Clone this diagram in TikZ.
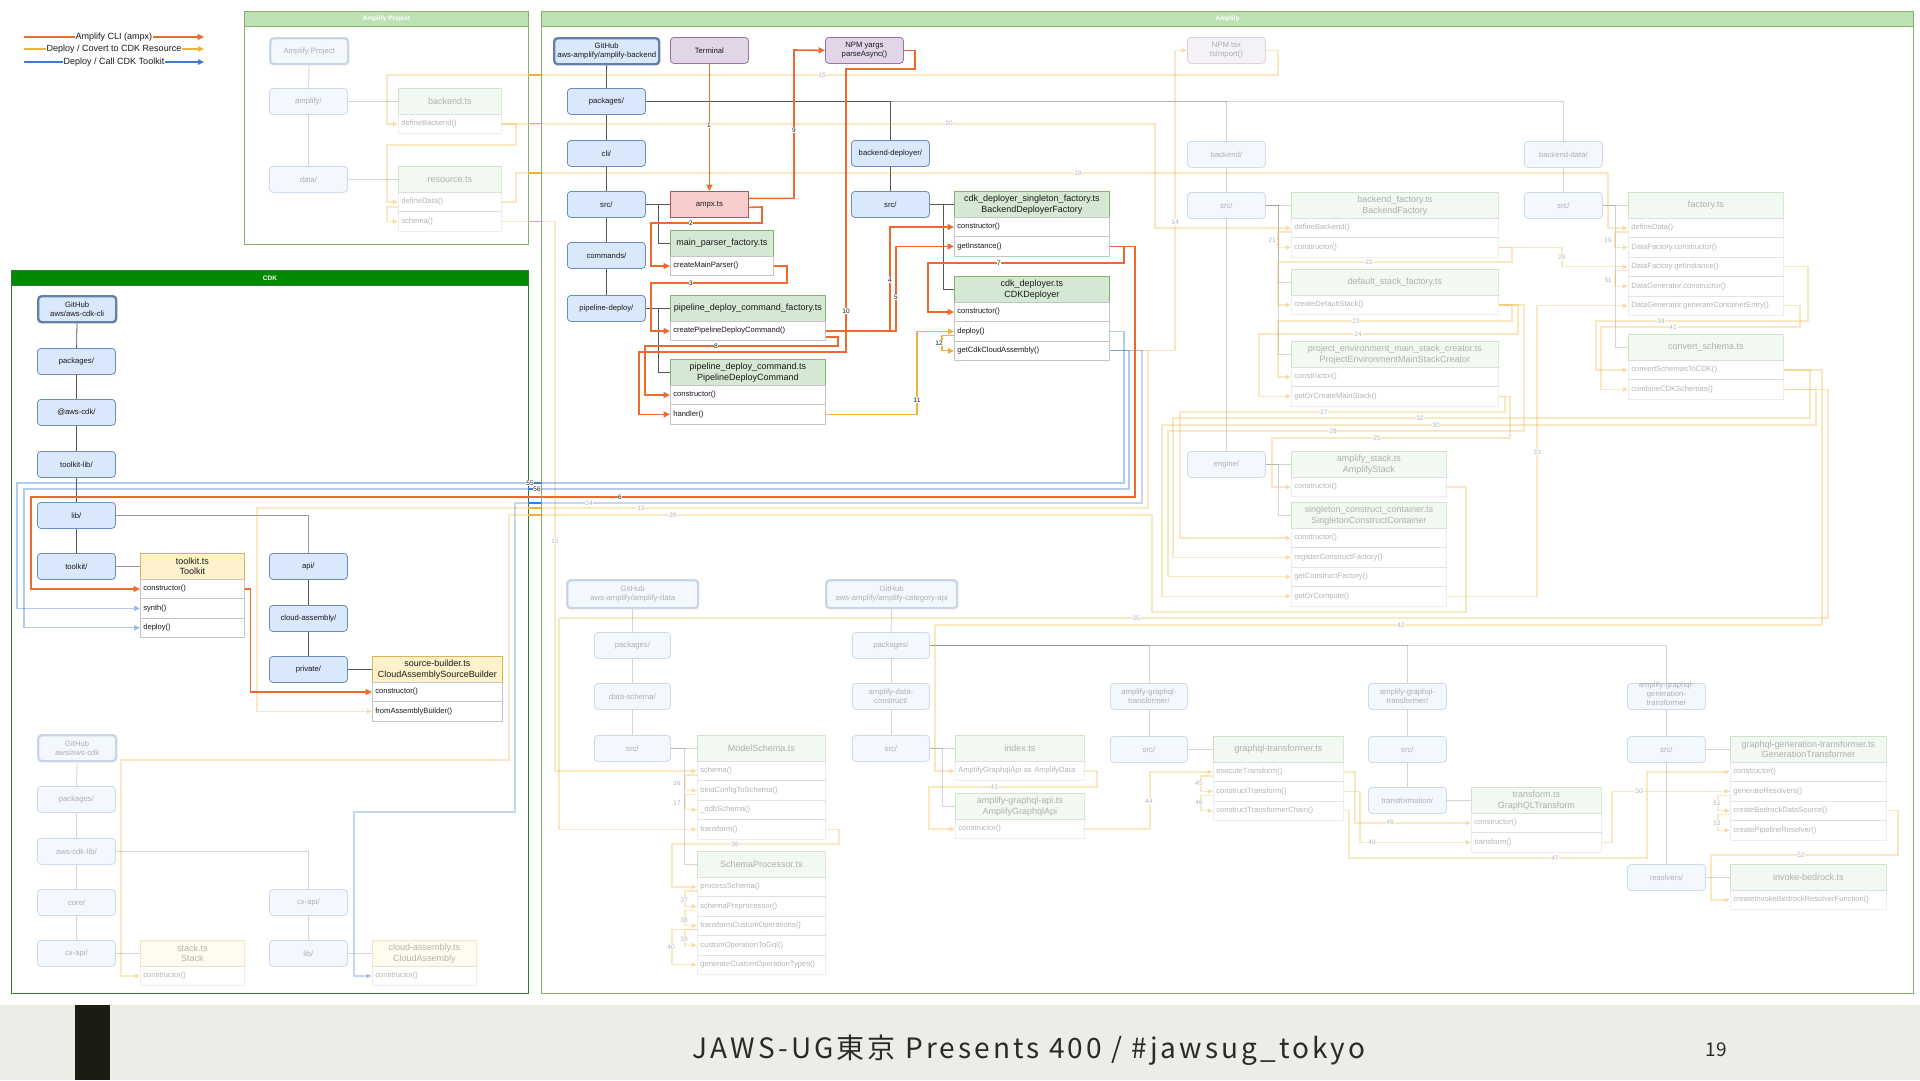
\documentclass[tikz,border=0pt]{standalone}
\usepackage{fontspec}
\setmainfont{Liberation Sans}
\newfontfamily\cjkfont{Noto Sans CJK JP}
\newfontfamily\cjkwide[LetterSpace=11]{Noto Sans CJK JP}
\usetikzlibrary{arrows.meta}
\definecolor{corng}{HTML}{EA6B2D}
\definecolor{cylw}{HTML}{F0B33A}
\definecolor{cblu}{HTML}{3B7DDD}
\definecolor{ctree}{HTML}{555555}
\definecolor{fbord}{HTML}{6C8EBF}
\definecolor{ffill}{HTML}{DAE8FC}
\definecolor{gbd}{HTML}{82B366}
\definecolor{gfill}{HTML}{D5E8D4}
\definecolor{ybd}{HTML}{D6B656}
\definecolor{yfill}{HTML}{FFF2CC}
\definecolor{pbd}{HTML}{9673A6}
\definecolor{pfill}{HTML}{E1D5E7}
\definecolor{rbd}{HTML}{B85450}
\definecolor{rfill}{HTML}{F8CECC}
\definecolor{rowbd}{HTML}{C4C4C4}
\definecolor{cdkg}{HTML}{008A00}
\definecolor{cdkb}{HTML}{2E7D32}
\definecolor{ampb}{HTML}{82B366}
\definecolor{amph}{HTML}{BDE1B5}
\definecolor{footbg}{HTML}{EEECE6}
\definecolor{footbar}{HTML}{1C1C14}
\definecolor{foottxt}{HTML}{2A2A2A}
\newcommand{\hdrfont}{\fontsize{9}{10.6}\selectfont}
\newcommand{\rowfont}{\fontsize{7.6}{9}\selectfont}
\newcommand{\fldfont}{\fontsize{7.7}{9}\selectfont}
\newcommand{\lblfont}{\fontsize{6.5}{7}\selectfont}
\tikzset{
  every node/.style={inner sep=1pt, text=black!90},
  cont/.style={anchor=north west, inner sep=0pt, line width=1pt},
  conthdr/.style={anchor=north west, inner sep=0pt, minimum height=15pt, text=white, font=\bfseries\fontsize{6.5}{7}\selectfont, line width=1pt},
  folder/.style={draw=fbord, fill=ffill, rounded corners=3.5pt, minimum width=78pt, minimum height=26pt, anchor=north west, align=center, font=\fldfont, line width=0.8pt},
  ghnode/.style={folder, line width=2.4pt, draw=fbord!90!black},
  purp/.style={folder, draw=pbd, fill=pfill},
  redbox/.style={folder, rounded corners=0pt, draw=rbd, fill=rfill},
  hdrG/.style={draw=gbd, fill=gfill, anchor=north west, minimum height=26pt, align=center, font=\hdrfont, inner sep=1pt, line width=0.8pt},
  hdrY/.style={draw=ybd, fill=yfill, anchor=north west, minimum height=26pt, align=center, font=\hdrfont, inner sep=1pt, line width=0.8pt},
  rowbox/.style={draw=rowbd, fill=white, anchor=north west, minimum height=19.4pt, inner xsep=3pt, inner ysep=0pt, align=left, font=\rowfont, line width=0.6pt},
  fade/.style={draw opacity=0.3, fill opacity=0.3, text opacity=0.32},
  nofade/.style={},
  tree/.style={draw=ctree, line width=0.8pt},
  ftree/.style={draw=ctree, line width=0.8pt, opacity=0.25},
  orngL/.style={draw=corng, line width=1.6pt, -{Triangle[length=6.5pt,width=6pt]}},
  ylwL/.style={draw=cylw, line width=1.3pt, -{Triangle[length=6pt,width=5.5pt]}},
  bluL/.style={draw=cblu, line width=1.2pt, opacity=0.4, -{Triangle[length=6pt,width=5.5pt]}},
  fylw/.style={draw=cylw, line width=1.1pt, opacity=0.3, -{Triangle[length=5.5pt,width=5pt]}},
  fblu/.style={draw=cblu, line width=1.1pt, opacity=0.3, -{Triangle[length=5.5pt,width=5pt]}},
  gapB/.style={draw=cblu, line width=1.2pt},
  gapY/.style={draw=cylw, line width=1.1pt},
  lbl/.style={font=\lblfont, fill=white, inner sep=0.6pt},
  flbl/.style={lbl, text opacity=0.33},
  legtxt/.style={fill=white, inner sep=0.6pt, font=\fontsize{9}{10}\selectfont}
}
\newcommand{\mkfile}[8]{%
  \node[#1,#2,minimum width=#6pt] (#3) at (#4,#5) {#7};
  \pgfmathsetmacro{\mytw}{#6-6}%
  \foreach \rk/\rt [count=\ri from 0] in {#8}{%
    \node[rowbox,#2,text width=\mytw pt] (#3-\rk) at (#4,{#5+26+\ri*19.4}) {\rt};
  }%
}
\begin{document}
\begin{tikzpicture}[x=1pt,y=-1pt]
\fill[white] (0,0) rectangle (1920,1080);
\useasboundingbox (0,0) rectangle (1920,1080);

% ---------------- containers
\node[cont, draw=ampb, minimum width=284pt, minimum height=233pt] (apbox) at (244,11) {};
\node[conthdr, fill=amph, draw=ampb, minimum width=284pt] (aphdr) at (244,11) {Amplify Project};
\node[cont, draw=cdkb, minimum width=517pt, minimum height=723pt] (cdkbox) at (11,270) {};
\node[conthdr, fill=cdkg, draw=cdkb, minimum width=517pt] (cdkhdr) at (11,270) {CDK};
\node[cont, draw=ampb, minimum width=1372pt, minimum height=982pt] (ampbox) at (541,11) {};
\node[conthdr, fill=amph, draw=ampb, minimum width=1372pt] (amphdr) at (541,11) {Amplify};

% ---------------- legend
\coordinate (lg1a) at (24,37); \coordinate (lg1b) at (204,37);
\coordinate (lg2a) at (24,49); \coordinate (lg2b) at (204,49);
\coordinate (lg3a) at (24,62); \coordinate (lg3b) at (204,62);
\draw[orngL, line width=1.3pt] (lg1a) -- node[legtxt] (lgt1) {Amplify CLI (ampx)} (lg1b);
\draw[ylwL] (lg2a) -- node[legtxt] (lgt2) {Deploy / Covert to CDK Resource} (lg2b);
\draw[draw=cblu, line width=1.2pt, -{Triangle[length=6pt,width=5.5pt]}] (lg3a) -- node[legtxt] (lgt3) {Deploy / Call CDK Toolkit} (lg3b);

% ---------------- Amplify Project (faded)
\node[ghnode,fade] (ap-root) at (269,37) {Amplify Project};
\node[folder,fade] (ap-amp) at (269,88) {amplify/};
\node[folder,fade] (ap-data) at (269,166) {data/};
\mkfile{hdrG}{fade}{backend}{398}{88}{103}{backend.ts}{db/defineBackend()}
\mkfile{hdrG}{fade}{resource}{398}{166}{103}{resource.ts}{dd/defineData(),sch/schema()}

% ---------------- CDK
\node[ghnode] (c-gh) at (37,295) {GitHub\\aws/aws-cdk-cli};
\node[folder] (c-pkg) at (37,348) {packages/};
\node[folder] (c-awscdk) at (37,399) {@aws-cdk/};
\node[folder] (c-tlib) at (37,451) {toolkit-lib/};
\node[folder] (c-lib) at (37,502) {lib/};
\node[folder] (c-toolkit) at (37,553) {toolkit/};
\mkfile{hdrY}{nofade}{tk}{140}{553}{104}{toolkit.ts\\Toolkit}{ctor/constructor(),synth/synth(),deploy/deploy()}
\node[folder] (c-api) at (269,553) {api/};
\node[folder] (c-ca) at (269,605) {cloud-assembly/};
\node[folder] (c-priv) at (269,656) {private/};
\mkfile{hdrY}{nofade}{sb}{372}{656}{130}{source-builder.ts\\CloudAssemblySourceBuilder}{ctor/constructor(),fab/fromAssemblyBuilder()}
\node[ghnode,fade] (c-gh2) at (37,734) {GitHub\\aws/aws-cdk};
\node[folder,fade] (c-pkg2) at (37,786) {packages/};
\node[folder,fade] (c-lib2) at (37,838) {aws-cdk-lib/};
\node[folder,fade] (c-core) at (37,889) {core/};
\node[folder,fade] (c-cx) at (37,940) {cx-api/};
\mkfile{hdrY}{fade}{st}{140}{940}{104}{stack.ts\\Stack}{ctor/constructor()}
\node[folder,fade] (c-cx2) at (269,889) {cx-api/};
\node[folder,fade] (c-lib3) at (269,940) {lib/};
\mkfile{hdrY}{fade}{cas}{372}{940}{104}{cloud-assembly.ts\\CloudAssembly}{ctor/constructor()}

% ---------------- Amplify (bright)
\node[ghnode, minimum width=105pt] (a-gh) at (553,37) {GitHub\\aws-amplify/amplify-backend};
\node[purp] (term) at (670,37) {Terminal};
\node[purp] (yargs) at (825,37) {NPM yargs\\parseAsync()};
\node[purp,fade] (tsx) at (1187,37) {NPM tsx\\tsImport()};
\node[folder] (a-pkg) at (567,88) {packages/};
\node[folder] (a-cli) at (567,140) {cli/};
\node[folder] (a-src) at (567,191) {src/};
\node[folder] (a-cmd) at (567,242) {commands/};
\node[folder] (a-pd) at (567,295) {pipeline-deploy/};
\node[redbox] (ampx) at (670,191) {ampx.ts};
\mkfile{hdrG}{nofade}{mp}{670}{230}{103}{main\_parser\_factory.ts}{cmp/createMainParser()}
\mkfile{hdrG}{nofade}{pdf}{670}{295}{155}{pipeline\_deploy\_command\_factory.ts}{cpdc/createPipelineDeployCommand()}
\mkfile{hdrG}{nofade}{pdc}{670}{359}{155}{pipeline\_deploy\_command.ts\\PipelineDeployCommand}{ctor/constructor(),handler/handler()}
\node[folder] (bd) at (851,140) {backend-deployer/};
\node[folder] (bd-src) at (851,191) {src/};
\mkfile{hdrG}{nofade}{sf}{954}{191}{155}{cdk\_deployer\_singleton\_factory.ts\\BackendDeployerFactory}{ctor/constructor(),gi/getInstance()}
\mkfile{hdrG}{nofade}{cd}{954}{276}{155}{cdk\_deployer.ts\\CDKDeployer}{ctor/constructor(),deploy/deploy(),gca/getCdkCloudAssembly()}

% ---------------- Amplify right (faded)
\node[folder,fade] (a-be) at (1187,141) {backend/};
\node[folder,fade] (a-bsrc) at (1187,192) {src/};
\mkfile{hdrG}{fade}{bf}{1291}{192}{207}{backend\_factory.ts\\BackendFactory}{db/defineBackend(),ctor/constructor()}
\mkfile{hdrG}{fade}{dsf}{1291}{269}{207}{default\_stack\_factory.ts}{cds/createDefaultStack()}
\mkfile{hdrG}{fade}{pem}{1291}{341}{207}{project\_environment\_main\_stack\_creator.ts\\ProjectEnvironmentMainStackCreator}{ctor/constructor(),gocms/getOrCreateMainStack()}
\node[folder,fade] (a-eng) at (1187,451) {engine/};
\mkfile{hdrG}{fade}{as}{1291}{451}{155}{amplify\_stack.ts\\AmplifyStack}{ctor/constructor()}
\mkfile{hdrG}{fade}{scc}{1291}{502}{155}{singleton\_construct\_container.ts\\SingletonConstructContainer}{ctor/constructor(),rcf/registerConstructFactory(),gcf/getConstructFactory(),goc/getOrCompute()}
\node[folder,fade] (a-bd2) at (1524,141) {backend-data/};
\node[folder,fade] (a-bdsrc) at (1524,192) {src/};
\mkfile{hdrG}{fade}{fac}{1628}{192}{155}{factory.ts}{dd/defineData(),dfc/DataFactory.constructor(),dfg/DataFactory.getInstance(),dgc/DataGenerator.constructor(),dgg/DataGenerator.generateContainerEntry()}
\mkfile{hdrG}{fade}{cs}{1628}{334}{155}{convert\_schema.ts}{cstc/convertSchemasToCDK(),ccs/combineCDKSchemas()}

% ---------------- Amplify bottom (faded)
\node[ghnode,fade,minimum width=131pt, minimum height=28pt] (d-gh) at (566,579) {GitHub\\aws-amplify/amplify-data};
\node[folder,fade,minimum width=76pt] (d-pkg) at (594,632) {packages/};
\node[folder,fade,minimum width=76pt] (d-ds) at (594,683) {data-schema/};
\node[folder,fade,minimum width=76pt] (d-src) at (594,735) {src/};
\mkfile{hdrG}{fade}{ms}{697}{735}{128}{ModelSchema.ts}{sch/schema(),bcs/bindConfigToSchema(),ddb/\_ddbSchema(),tr/transform()}
\mkfile{hdrG}{fade}{sp}{697}{851}{128}{SchemaProcessor.ts}{ps/processSchema(),spp/schemaPreprocessor(),tco/transformCustomOperations(),cotg/customOperationToGql(),gcot/generateCustomOperationTypes()}
\node[ghnode,fade,minimum width=131pt, minimum height=28pt] (g-gh) at (825,579) {GitHub\\aws-amplify/amplify-category-api};
\node[folder,fade,minimum width=77pt] (g-pkg) at (852,632) {packages/};
\node[folder,fade,minimum width=77pt] (g-adc) at (852,683) {amplify-data-\\construct/};
\node[folder,fade,minimum width=77pt] (g-src) at (852,735) {src/};
\mkfile{hdrG}{fade}{idx}{955}{735}{129}{index.ts}{agad/AmplifyGraphqlApi as AmplifyData}
\mkfile{hdrG}{fade}{aga}{955}{793}{129}{amplify-graphql-api.ts\\AmplifyGraphqlApi}{ctor/constructor()}
\node[folder,fade,minimum width=77pt] (t1) at (1110,683) {amplify-graphql-\\transformer/};
\node[folder,fade,minimum width=77pt] (t1src) at (1110,736) {src/};
\mkfile{hdrG}{fade}{gt}{1213}{736}{130}{graphql-transformer.ts}{et/executeTransform(),ct/constructTransform(),ctc/constructTransformerChain()}
\node[folder,fade] (t2) at (1368,683) {amplify-graphql-\\transformer/};
\node[folder,fade] (t2src) at (1368,736) {src/};
\node[folder,fade] (t2tr) at (1368,787) {transformation/};
\mkfile{hdrG}{fade}{tt}{1471}{787}{130}{transform.ts\\GraphQLTransform}{ctor/constructor(),tf/transform()}
\node[folder,fade] (t3) at (1627,683) {\smash{\begin{tabular}{@{}c@{}}amplify-graphql-\\generation-\\transformer\end{tabular}}};
\node[folder,fade] (t3src) at (1627,736) {src/};
\node[folder,fade] (t3res) at (1627,864) {resolvers/};
\mkfile{hdrG}{fade}{gg}{1730}{736}{156}{graphql-generation-transformer.ts\\GenerationTransformer}{ctor/constructor(),gr/generateResolvers(),cbds/createBedrockDataSource(),cpr/createPipelineResolver()}
\mkfile{hdrG}{fade}{ib}{1730}{864}{156}{invoke-bedrock.ts}{cibrf/createInvokeBedrockResolverFunction()}

% ---------------- tree lines
\draw[ftree] (ap-root) -- (ap-amp);
\draw[ftree] (ap-amp) -- (ap-data);
\draw[ftree] (ap-amp.east) -- (backend.west);
\draw[ftree] (ap-data.east) -- (resource.west);

\draw[tree] (c-gh) -- (c-pkg);
\draw[tree] (c-pkg) -- (c-awscdk);
\draw[tree] (c-awscdk) -- (c-tlib);
\draw[tree] (c-tlib) -- (c-lib);
\draw[tree] (c-lib) -- (c-toolkit);
\draw[tree, draw=ctree!60] (c-lib.east) -| (c-api.north);
\draw[tree] (c-api) -- (c-ca);
\draw[tree] (c-ca) -- (c-priv);
\draw[tree, draw=ctree!60] (c-toolkit.east) -- (tk.west);
\draw[tree] (c-priv.east) -- (sb.west);
\draw[ftree] (c-gh2) -- (c-pkg2);
\draw[ftree] (c-pkg2) -- (c-lib2);
\draw[ftree] (c-lib2) -- (c-core);
\draw[ftree] (c-core) -- (c-cx);
\draw[ftree] (c-lib2.east) -| (c-cx2.north);
\draw[ftree] (c-cx2) -- (c-lib3);
\draw[ftree] (c-cx.east) -- (st.west);
\draw[ftree] (c-lib3.east) -- (cas.west);

\draw[tree] (a-gh) -- (a-pkg);
\draw[tree] (a-pkg) -- (a-cli);
\draw[tree] (a-cli) -- (a-src);
\draw[tree] (a-src) -- (a-cmd);
\draw[tree] (a-cmd) -- (a-pd);
\draw[ftree] (a-pkg.east) -| (a-be.north);
\draw[ftree] (a-pkg.east) -| (a-bd2.north);
\draw[tree] (a-pkg.east) -| (bd.north);
\draw[tree] (bd) -- (bd-src);
\draw[tree] (a-src.east) -- (ampx.west);
\draw[tree] (a-src.east) -- ++(13,0) |- (mp.west);
\draw[tree] (a-pd.east) -- ++(13,0) |- (pdf.west);
\draw[tree] (a-pd.east) -- ++(13,0) |- (pdc.west);
\draw[tree] (bd-src.east) -- (sf.west);
\draw[tree] (bd-src.east) -- ++(14,0) |- (cd.west);

\draw[ftree] (a-be) -- (a-bsrc);
\draw[ftree] (a-bsrc) -- (a-eng);
\draw[ftree] (a-bsrc.east) -- ++(13,0) |- (bf.west);
\draw[ftree] (a-bsrc.east) -- ++(13,0) |- (dsf.west);
\draw[ftree] (a-bsrc.east) -- ++(13,0) |- (pem.west);
\draw[ftree] (a-eng.east) -- ++(13,0) |- (as.west);
\draw[ftree] (a-eng.east) -- ++(13,0) |- (scc.west);
\draw[ftree] (a-bd2) -- (a-bdsrc);
\draw[ftree] (a-bdsrc.east) -- ++(13,0) |- (fac.west);
\draw[ftree] (a-bdsrc.east) -- ++(13,0) |- (cs.west);

\draw[ftree] (d-gh) -- (d-pkg);
\draw[ftree] (d-pkg) -- (d-ds);
\draw[ftree] (d-ds) -- (d-src);
\draw[ftree] (d-src.east) -- ++(14,0) |- (ms.west);
\draw[ftree] (d-src.east) -- ++(14,0) |- (sp.west);
\draw[ftree] (g-gh) -- (g-pkg);
\draw[ftree] (g-pkg) -- (g-adc);
\draw[ftree] (g-adc) -- (g-src);
\draw[ftree] (g-src.east) -- ++(13,0) |- (idx.west);
\draw[ftree] (g-src.east) -- ++(13,0) |- (aga.west);
\draw[ftree] (g-pkg.east) -| (t1.north);
\draw[ftree] (g-pkg.east) -| (t2.north);
\draw[ftree] (g-pkg.east) -| (t3.north);
\draw[ftree] (t1) -- (t1src);
\draw[ftree] (t1src.east) -- (gt.west);
\draw[ftree] (t2) -- (t2src);
\draw[ftree] (t2src) -- (t2tr);
\draw[ftree] (t2tr.east) -- (tt.west);
\draw[ftree] (t3) -- (t3src);
\draw[ftree] (t3src) -- (t3res);
\draw[ftree] (t3src.east) -- (gg.west);
\draw[ftree] (t3res.east) -- (ib.west);

% ---------------- faded yellow / blue connectors
\draw[fylw] (tsx.east) -| (1278,75) -- (387,75) |- (backend-db.west);
\draw[fylw] (backend-db.east) -| (516,145) -- (387,145) |- (resource-dd.west);
\draw[fylw] (resource-dd.east) -| (516,173) -- (1608,173) |- (fac-dd.west);
\draw[fylw] (backend-db.east) -| ([xshift=-136pt]bf-db.west) -- (bf-db.west);
\draw[fylw] (resource-sch.east) -| ([xshift=-142pt]ms-sch.west) -- (ms-sch.west);
\draw[fylw] ([yshift=-5pt]resource-dd.west) -- ++(-11,0) |- (resource-sch.west);
\draw[fylw] (cd-gca.east) -| (1148,508) -- (257,508) |- (sb-fab.west);
\draw[fylw] (cd-gca.east) -| ([xshift=-12pt]tsx.west) -- (tsx.west);
\draw[fblu] (cd-gca.east) -| (1142,503) -- (515,503) -- (515,812) -- (354,812) |- (cas-ctor.west);
\draw[fylw] (as-ctor.east) -| (1466,612) -- (1152,612) -- (1152,515) -- (509,515) -- (509,760) -- (121,760) |- (st-ctor.west);

\draw[fylw] ([yshift=-4pt]bf-db.west) -- ++(-13,0) |- (bf-ctor.west);
\draw[fylw] (bf-ctor.east) -| (1512,262) -- (1278,262) |- (dsf-cds.west);
\draw[fylw] (dsf-cds.east) -| (1512,321) -- (1278,321) |- (pem-ctor.west);
\draw[fylw] (dsf-cds.east) -| (1518,334) -- (1259,334) |- (pem-gocms.west);
\draw[fylw] (bf-ctor.east) -| ([xshift=-66pt]fac-dfg.west) -- (fac-dfg.west);
\draw[fylw] ([yshift=-4pt]fac-dd.west) -- ++(-13,0) |- (fac-dfc.west);
\draw[fylw] ([yshift=-4pt]fac-dfg.west) -- ++(-13,0) |- (fac-dgc.west);
\draw[fylw] (fac-dfg.east) -| (1808,321) -- (1596,321) |- (cs-cstc.west);
\draw[fylw] (fac-dgg.east) -| (1800,327) -- (1601,327) |- (cs-ccs.west);
\draw[fylw] (scc-goc.east) -| ([xshift=-91pt]fac-dgg.west) -- (fac-dgg.west);
\draw[fylw] (pem-gocms.east) -| (1505,412) -- (1180,412) |- (scc-ctor.west);
\draw[fylw] (cs-cstc.east) -| (1810,418) -- (1173,418) |- (scc-rcf.west);
\draw[fylw] (cs-ccs.east) -| (1816,425) -- (1162,425) |- (scc-goc.west);
\draw[fylw] (dsf-cds.east) -| (1524,431) -- (1168,431) |- (scc-gcf.west);
\draw[fylw] (pem-gocms.east) -| (1510,438) -- (1272,438) |- (as-ctor.west);
\draw[fylw] (cs-cstc.east) -| (1822,625) -- (935,625) |- (idx-agad.west);
\draw[fylw] (cs-ccs.east) -| (1828,618) -- (559,618) |- (ms-tr.west);

\draw[fylw] ([yshift=-4pt]ms-sch.west) -- ++(-12,0) |- (ms-bcs.west);
\draw[fylw] ([yshift=-4pt]ms-bcs.west) -- ++(-12,0) |- (ms-ddb.west);
\draw[fylw] (ms-tr.east) -| (839,844) -- (672,844) |- (sp-ps.west);
\draw[fylw] ([yshift=-4pt]sp-ps.west) -- ++(-12,0) |- (sp-spp.west);
\draw[fylw] ([yshift=-4pt]sp-spp.west) -- ++(-12,0) |- (sp-tco.west);
\draw[fylw] ([yshift=-4pt]sp-tco.west) -- ++(-12,0) |- (sp-cotg.west);
\draw[fylw] ([yshift=-4pt]sp-tco.west) -- ++(-25,0) |- (sp-gcot.west);
\draw[fylw] (idx-agad.east) -| (1097,787) -- (929,787) |- (aga-ctor.west);
\draw[fylw] (aga-ctor.east) -| ([xshift=-63pt]gt-et.west) -- (gt-et.west);
\draw[fylw] ([yshift=-4pt]gt-et.west) -- ++(-12,0) |- (gt-ct.west);
\draw[fylw] ([yshift=-4pt]gt-ct.west) -- ++(-12,0) |- (gt-ctc.west);
\draw[fylw] (gt-et.east) -| ([xshift=-116pt]tt-ctor.west) -- (tt-ctor.west);
\draw[fylw] (gt-ct.east) -| ([xshift=-111pt]tt-tf.west) -- (tt-tf.west);
\draw[fylw] (gt-ctc.east) -| (1349,858) -- (1647,858) |- (gg-ctor.west);
\draw[fylw] (tt-tf.east) -| ([xshift=-118pt]gg-gr.west) -- (gg-gr.west);
\draw[fylw] ([yshift=-4pt]gg-gr.west) -- ++(-12,0) |- (gg-cbds.west);
\draw[fylw] ([yshift=-4pt]gg-cbds.west) -- ++(-12,0) |- (gg-cpr.west);
\draw[fylw] (gg-cbds.east) -| (1898,855) -- (1711,855) |- (ib-cibrf.west);

% ---------------- bright connectors
\draw[bluL] (cd-deploy.east) -| (1124,483) -- (17,483) |- (tk-synth.west);
\draw[bluL] (cd-gca.east) -| (1129,489) -- (24,489) |- (tk-deploy.west);
\draw[orngL] (term) -- (ampx);
\draw[orngL] ([yshift=6pt]ampx.east) -| (794,50) -- (yargs.west);
\draw[orngL] ([yshift=-3pt]ampx.east) -- (762,207) -- (762,223) -- (651,223) |- (mp-cmp.west);
\draw[orngL] (mp-cmp.east) -| (787,283) -- (651,283) |- (pdf-cpdc.west);
\draw[orngL] (pdf-cpdc.east) -| ([xshift=-64pt]sf-ctor.west) -- (sf-ctor.west);
\draw[orngL] (pdf-cpdc.east) -| ([xshift=-58pt]sf-gi.west) -- (sf-gi.west);
\draw[orngL] (sf-gi.east) -| (1135,497) -- (31,497) |- (tk-ctor.west);
\draw[orngL] (sf-gi.east) -| (1124,263) -- (928,263) |- (cd-ctor.west);
\draw[orngL] ([yshift=-6pt]pdf-cpdc.east) -| (838,346) -- (645,346) |- (pdc-ctor.west);
\draw[orngL] (yargs.east) -| (915,69) -- (846,69) -- (846,352) -- (639,352) |- (pdc-handler.west);
\draw[orngL] (tk-ctor.east) -- ++(6,0) |- (sb-ctor.west);
\draw[ylwL] (pdc-handler.east) -| ([xshift=-37pt]cd-deploy.west) -- (cd-deploy.west);
\draw[ylwL] ([yshift=-4pt]cd-deploy.west) -- ++(-12,0) |- (cd-gca.west);

% ---------------- unfaded bits of lines in the gaps between the containers
\draw[gapB] (528,483) -- (541,483);
\draw[gapB] (528,489) -- (541,489);
\draw[gapB] (528,503) -- (541,503);
\draw[gapY] (528,508) -- (541,508);
\draw[gapY] (528,515) -- (541,515);
\draw[gapY] (528,75) -- (541,75);
\draw[gapY] (528,123.7) -- (541,123.7);
\draw[gapY] (528,173) -- (541,173);
\draw[gapY] (528,221.1) -- (541,221.1);

% ---------------- labels
\node[lbl] (n1) at (709,125) {1};
\node[lbl] (n2) at (691,223) {2};
\node[lbl] (n3) at (691,283) {3};
\node[lbl] (n4) at (890,280) {4};
\node[lbl] (n5) at (896,297) {5};
\node[lbl] (n6) at (620,497) {6};
\node[lbl] (n7) at (999,263) {7};
\node[lbl] (n8) at (716,346) {8};
\node[lbl] (n9) at (794,130) {9};
\node[lbl] (n10) at (846,311) {10};
\node[lbl] (n11) at (917,400) {11};
\node[lbl] (n12) at (939,343) {12};
\node[lbl] (n55) at (530,483) {55};
\node[lbl] (n56) at (537,489) {56};
\node[flbl] (n13) at (641,508) {13};
\node[flbl] (n14) at (1175,222) {14};
\node[flbl] (n15a) at (822,75) {15};
\node[flbl] (n15b) at (555,541) {15};
\node[flbl] (n16) at (677,783) {16};
\node[flbl] (n17) at (677,803) {17};
\node[flbl] (n18) at (1078,173) {18};
\node[flbl] (n19) at (1608,240) {19};
\node[flbl] (n20) at (949,123) {20};
\node[flbl] (n21) at (1272,240) {21};
\node[flbl] (n22) at (1369,262) {22};
\node[flbl] (n23) at (1356,321) {23};
\node[flbl] (n24) at (1358,334) {24};
\node[flbl] (n25) at (1377,438) {25};
\node[flbl] (n26) at (673,515) {26};
\node[flbl] (n27) at (1324,412) {27};
\node[flbl] (n28) at (1333,431) {28};
\node[flbl] (n29) at (1562,257) {29};
\node[flbl] (n30) at (1436,425) {30};
\node[flbl] (n31) at (1608,280) {31};
\node[flbl] (n32) at (1420,418) {32};
\node[flbl] (n33) at (1537,452) {33};
\node[flbl] (n34) at (1661,321) {34};
\node[flbl] (n35) at (1136,618) {35};
\node[flbl] (n36) at (735,844) {36};
\node[flbl] (n37) at (684,900) {37};
\node[flbl] (n38) at (684,920) {38};
\node[flbl] (n39) at (684,939) {39};
\node[flbl] (n40) at (671,947) {40};
\node[flbl] (n41) at (1673,327) {41};
\node[flbl] (n42) at (1401,625) {42};
\node[flbl] (n43) at (994,787) {43};
\node[flbl] (n44) at (1149,801) {44};
\node[flbl] (n45) at (1199,783) {45};
\node[flbl] (n46) at (1199,802) {46};
\node[flbl] (n47) at (1555,858) {47};
\node[flbl] (n48) at (1390,822) {48};
\node[flbl] (n49) at (1372,842) {49};
\node[flbl] (n50) at (1639,791) {50};
\node[flbl] (n51) at (1717,803) {51};
\node[flbl] (n52) at (1801,855) {52};
\node[flbl] (n53) at (1717,823) {53};
\node[flbl] (n54) at (589,503) {54};

% ---------------- footer
\fill[footbg] (0,1005) rectangle (1920,1080);
\fill[footbar] (75,1005) rectangle (110,1080);
\node[font=\cjkwide\fontsize{28}{32}\selectfont, text=foottxt] (foot) at (1029,1050) {JAWS-UG東京 Presents 400 / \#jawsug\_tokyo};
\node[font=\cjkfont\fontsize{19}{22}\selectfont, text=foottxt] (pgno) at (1716,1050) {19};
\end{tikzpicture}
\end{document}
